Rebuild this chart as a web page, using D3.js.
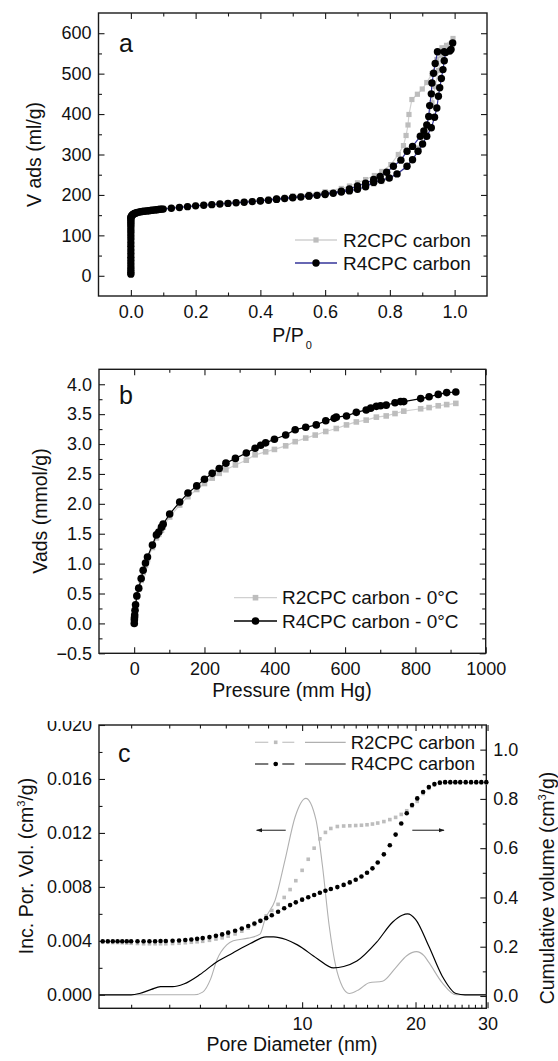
<!DOCTYPE html>
<html>
<head>
<meta charset="utf-8">
<script src="https://cdn.jsdelivr.net/npm/d3@7"></script>
<style>
  body { margin: 0; background: #fff; }
  svg text { font-family: "Liberation Sans", Arial, sans-serif; fill: #111; }
</style>
</head>
<body>
<div class="d3Chart"></div>
<script>
// ---------- panel a : N2 isotherms (P/P0 , ml/g) ----------
var aXTicks = [0.0, 0.2, 0.4, 0.6, 0.8, 1.0];
var aXMinor = [0.1, 0.3, 0.5, 0.7, 0.9];
var aYTicks = [0, 100, 200, 300, 400, 500, 600];
var aYMinor = [50, 150, 250, 350, 450, 550];
var aNames = ["R2CPC carbon", "R4CPC carbon"];
var aR2 = [
  [0,5],[0,12],[0,20],[0,30],[0,40],[0,52],[0,64],[0,76],[0,88],[0,100],[0,110],[0,120],[0,128],[0,135],[0,141],
  [0.002,147],[0.005,151],[0.01,154],[0.02,157],[0.03,159.5],[0.04,161],[0.05,162],[0.06,163],[0.07,164],[0.08,165],[0.09,166],[0.1,167],
  [0.125,169],[0.15,171],[0.175,173],[0.2,175],[0.225,176.5],[0.25,178],[0.275,179.5],[0.3,181],[0.325,182.5],[0.35,184],[0.375,186],
  [0.4,188],[0.425,190],[0.45,192],[0.475,194],[0.5,196],[0.525,198],[0.55,200],[0.575,202],[0.6,204],[0.625,206],[0.65,209],[0.675,212],
  [0.7,216],[0.725,221],[0.75,227],[0.775,233],[0.8,241],[0.825,252],[0.85,268],[0.87,288],[0.89,316],[0.905,348],[0.92,392],[0.93,428],
  [0.94,468],[0.95,508],[0.96,545],[0.975,570],[0.995,587],
  [0.961,564],[0.945,535],[0.93,500],[0.914,478],[0.9,462],[0.885,449],[0.868,436],[0.859,399],[0.856,373],[0.85,347],[0.842,322],
  [0.826,300],[0.803,275],[0.775,258],[0.752,248],[0.725,238],[0.7,230],[0.675,222],[0.65,216],[0.6,208],[0.55,202],[0.5,198]
];
var aR4 = [
  [0,4],[0,9],[0,15],[0,22],[0,30],[0,38],[0,46],[0,55],[0,64],[0,73],[0,82],[0,91],[0,99],[0,107],[0,114],[0,121],[0,127],[0,132],[0,137],[0,141],[0,144],
  [0.001,146],[0.002,148],[0.004,150],[0.006,151.5],[0.008,152.5],[0.01,153.5],[0.013,154.5],[0.016,155.5],[0.02,156.5],[0.025,157.5],
  [0.03,158.5],[0.035,159],[0.04,159.5],[0.045,160],[0.05,160.5],[0.055,161],[0.06,161.5],[0.065,162],[0.07,162.5],[0.075,163],[0.08,163.5],
  [0.085,164],[0.09,164.5],[0.095,165],[0.1,165],
  [0.125,167],[0.15,169],[0.175,171],[0.2,173],[0.225,174.5],[0.25,176],[0.275,177.5],[0.3,179],[0.325,180.5],[0.35,182],[0.375,183.5],
  [0.4,185],[0.425,187],[0.45,189],[0.475,191],[0.5,193],[0.525,195],[0.55,197],[0.575,199],[0.6,201],[0.625,204],[0.65,207],[0.675,210],
  [0.7,214],[0.725,220],[0.75,231],[0.773,236],[0.798,242],[0.822,252],[0.853,271],[0.87,287],[0.887,308],[0.901,326],[0.914,345],
  [0.928,366],[0.938,392],[0.945,415],[0.95,444],[0.954,465],[0.959,488],[0.964,510],[0.968,532],[0.972,552],[0.985,556],[0.994,576],
  [0.989,560],[0.968,554],[0.947,554],[0.94,525],[0.935,501],[0.93,477],[0.928,450],[0.923,421],[0.92,394],[0.914,373],[0.905,358],
  [0.894,345],[0.87,320],[0.853,308],[0.834,286],[0.811,271],[0.79,256],[0.77,246],[0.75,238],[0.725,229],[0.7,222],[0.675,215],
  [0.65,209],[0.6,203],[0.55,198],[0.5,194],[0.45,190],[0.4,186]
];

// ---------- panel b : CO2 isotherms at 0 °C (mm Hg , mmol/g) ----------
var bXTicks = [0, 200, 400, 600, 800, 1000];
var bXMinor = [100, 300, 500, 700, 900];
var bYTicks = [-0.5, 0, 0.5, 1.0, 1.5, 2.0, 2.5, 3.0, 3.5, 4.0];
var bYMinor = [-0.25, 0.25, 0.75, 1.25, 1.75, 2.25, 2.75, 3.25, 3.75];
var bNames = ["R2CPC carbon - 0°C", "R4CPC carbon - 0°C"];
var bR2P = [0.3,0.6,1,1.5,2.5,4,7.6,13,20,25.6,32.2,37.9,52,63.4,70,77.7,82.5,101,129.5,153,178,200,222,242,261,288,319,344,374,399,431,458,488,515,545,575,604,632,660,689,717,742,767,815,839,865,889,915];
var bR2V = [0,0.04,0.08,0.12,0.2,0.29,0.44,0.57,0.72,0.85,0.97,1.07,1.27,1.43,1.49,1.56,1.61,1.78,1.98,2.12,2.24,2.34,2.43,2.51,2.57,2.65,2.73,2.82,2.87,2.91,2.97,3.04,3.10,3.15,3.21,3.26,3.32,3.37,3.40,3.45,3.47,3.51,3.55,3.59,3.61,3.64,3.66,3.68];
var bR4P = [0.3,0.6,1,1.5,2.5,4,7.6,13,20,25.6,32.2,37.9,52,63.4,70,77.7,82.5,101,129.5,153,178,200,222,242,261,288,319,344,360,374,399,431,458,488,518,545,569,575,604,632,660,673,689,701,717,742,758,767,815,839,865,889,915];
var bR4V = [0,0.06,0.1,0.14,0.22,0.31,0.46,0.59,0.75,0.89,1.01,1.11,1.31,1.48,1.53,1.61,1.66,1.83,2.03,2.18,2.30,2.41,2.51,2.59,2.68,2.76,2.85,2.93,2.98,3.02,3.08,3.15,3.24,3.28,3.32,3.39,3.43,3.45,3.47,3.53,3.57,3.60,3.63,3.64,3.65,3.69,3.71,3.71,3.76,3.79,3.83,3.86,3.87];

// ---------- panel c : pore size distribution ----------
var cXTicks = [10, 20, 30];
var cXMinor = [3,4,5,6,7,8,9,11,12,13,14,15,16,17,18,19,21,22,23,24,25,26,27,28,29];
var cYTicks = [0, 0.004, 0.008, 0.012, 0.016, 0.020];
var cYMinor = [0.002, 0.006, 0.010, 0.014, 0.018];
var cY2Ticks = [0, 0.2, 0.4, 0.6, 0.8, 1.0];
var cY2Minor = [0.1, 0.3, 0.5, 0.7, 0.9];
var cNames = ["R2CPC carbon", "R4CPC carbon"];
var cDiam = [2.4,2.5,2.6,2.7,2.8,2.9,3.0,3.15,3.3,3.45,3.6,3.75,3.9,4.1,4.3,4.5,4.7,4.9,5.1,5.35,5.6,5.85,6.1,6.4,6.7,7.0,7.3,7.6,7.9,8.2,8.55,8.9,9.25,9.6,10.0,10.4,10.8,11.2,11.6,12.0,12.5,13.0,13.5,14.0,14.5,15.0,15.5,16.0,16.6,17.2,17.8,18.4,19.0,19.6,20.2,20.9,21.6,22.3,23.0,23.7,24.4,25.1,25.8,26.6,27.4,28.2,29.0,29.8];
var cCumR2 = [.218,.218,.217,.217,.216,.215,.214,.213,.212,.212,.212,.212,.212,.213,.214,.216,.218,.220,.222,.226,.231,.236,.243,.252,.263,.276,.290,.306,.325,.347,.372,.400,.432,.468,.510,.555,.600,.638,.664,.680,.688,.690,.691,.692,.693,.695,.698,.702,.708,.716,.725,.737,.752,.770,.790,.822,.843,.856,.863,.865,.865,.865,.865,.865,.865,.865,.865,.865];
var cCumR4 = [.222,.222,.222,.222,.222,.222,.222,.222,.222,.222,.222,.223,.223,.224,.225,.227,.229,.232,.235,.239,.244,.250,.257,.265,.274,.284,.294,.305,.316,.328,.342,.356,.369,.380,.391,.401,.410,.419,.427,.434,.442,.451,.461,.472,.485,.500,.518,.542,.575,.612,.655,.700,.742,.775,.802,.828,.848,.860,.866,.868,.868,.868,.868,.868,.868,.868,.868,.868];
var cPsdR2 = [[2.33,0],[4.8,0],[5.1,0.0002],[5.4,0.0012],[5.64,0.0026],[6.04,0.0037],[6.32,0.0040],[7.0,0.0042],[7.58,0.0045],[7.84,0.0056],
  [8.38,0.0070],[8.95,0.0100],[9.56,0.0132],[10.24,0.01456],[10.92,0.0130],[11.38,0.0096],[11.88,0.0051],[12.38,0.0021],[12.9,0.0006],
  [13.45,0.0001],[14.3,0.0004],[15.2,0.0009],[16.46,0.0010],[17.8,0.0020],[19.0,0.0029],[20.1,0.0032],[21.0,0.0029],[21.6,0.0024],
  [23.3,0.0009],[25.2,0.0],[29.8,0.0]];
var cPsdR4 = [[2.33,0],[3.0,0],[3.2,0.0001],[3.5,0.0004],[3.75,0.0006],[4.1,0.0006],[4.45,0.0008],[5.0,0.0015],[5.6,0.0024],[6.3,0.0031],
  [7.1,0.0038],[7.9,0.0043],[8.3,0.0043],[9.0,0.0041],[9.7,0.0037],[11.0,0.0027],[12.2,0.0020],[13.0,0.0021],[14.1,0.0025],[15.9,0.0039],
  [17.5,0.0054],[18.5,0.0059],[19.1,0.0060],[20.0,0.0056],[21.6,0.0036],[23.3,0.0014],[25.2,0.0001],[26.5,0],[29.8,0]];
// arrows: [from diameter, to diameter, level on left axis]
var cArrows = [[8.99, 7.41, 0.0122], [19.63, 23.55, 0.0122]];

var W = 558, H = 1061;
var GRAY = "#bdbdbd", INK = "#1a1a1a";
var TITLE = 19.5;

var svg = d3.select(".d3Chart").append("svg")
  .attr("width", W).attr("height", H)
  .style("background-color", "#fff");

svg.append("defs").append("marker")
  .attr("id", "arrowHead").attr("viewBox", "0 0 10 10")
  .attr("refX", 9).attr("refY", 5)
  .attr("markerWidth", 6).attr("markerHeight", 6)
  .attr("orient", "auto-start-reverse")
  .append("path").attr("d", "M0,1.5 L10,5 L0,8.5 Z").attr("fill", INK);

svg.select("defs").append("clipPath").attr("id", "clipC")
  .append("rect").attr("x", 0).attr("y", 721).attr("width", W).attr("height", H);

// 坐標軸 + 外框
function drawFrame(g, x, y, o) {
  var x0 = x.range()[0], x1 = x.range()[1], y0 = y.range()[1], y1 = y.range()[0];
  function put(axis, tx, ty) {
    var a = g.append("g").attr("transform", "translate(" + tx + "," + ty + ")").call(axis);
    a.select(".domain").remove();
    a.selectAll("line").attr("stroke", INK).attr("stroke-width", 1.1);
    a.attr("font-size", 18).attr("font-family", "Liberation Sans, Arial, sans-serif");
    a.selectAll("text").attr("fill", INK);
    return a;
  }
  put(d3.axisBottom(x).tickValues(o.xTicks).tickSize(-6).tickPadding(9).tickFormat(o.xFmt), 0, y1);
  put(d3.axisBottom(x).tickValues(o.xMinor).tickSize(-3.5).tickFormat(""), 0, y1);
  put(d3.axisTop(x).tickValues(o.xTicks).tickSize(-6).tickFormat(""), 0, y0);
  put(d3.axisTop(x).tickValues(o.xMinor).tickSize(-3.5).tickFormat(""), 0, y0);
  put(d3.axisLeft(y).tickValues(o.yTicks).tickSize(-6).tickPadding(7).tickFormat(o.yFmt), x0, 0);
  put(d3.axisLeft(y).tickValues(o.yMinor).tickSize(-3.5).tickFormat(""), x0, 0);
  var yr = o.y2 || y;
  put(d3.axisRight(yr).tickValues(o.y2Ticks || o.yTicks).tickSize(-6).tickPadding(7)
      .tickFormat(o.y2 ? o.y2Fmt : ""), x1, 0);
  put(d3.axisRight(yr).tickValues(o.y2Minor || o.yMinor).tickSize(-3.5).tickFormat(""), x1, 0);
  g.append("rect").attr("x", x0).attr("y", y0).attr("width", x1 - x0).attr("height", y1 - y0)
    .attr("fill", "none").attr("stroke", INK).attr("stroke-width", 1.4);
}

function panelLetter(g, x, y, t) {
  g.append("text").attr("x", x).attr("y", y).text(t)
    .attr("font-family", "Open Sans, Noto Sans, sans-serif").attr("font-size", 25);
}

function square(g, cx, cy, s, c) {
  g.append("rect").attr("x", cx - s / 2).attr("y", cy - s / 2).attr("width", s).attr("height", s).attr("fill", c);
}

// ================= panel a =================
var ga = svg.append("g");
var xA = d3.scaleLinear().domain([-0.1, 1.1]).range([98.5, 487]);
var yA = d3.scaleLinear().domain([-50, 650]).range([296, 13]);
drawFrame(ga, xA, yA, {
  xTicks: aXTicks, xMinor: aXMinor, xFmt: d3.format(".1f"),
  yTicks: aYTicks, yMinor: aYMinor, yFmt: d3.format("d")
});
var lineA = d3.line().x(function (d) { return xA(d[0]); }).y(function (d) { return yA(d[1]); });
ga.append("path").datum(aR2).attr("d", lineA).attr("fill", "none").attr("stroke", "#d0d0d0").attr("stroke-width", 1.2);
ga.append("g").selectAll("rect").data(aR2).enter().append("rect")
  .attr("x", function (d) { return xA(d[0]) - 2.6; }).attr("y", function (d) { return yA(d[1]) - 2.6; })
  .attr("width", 5.2).attr("height", 5.2).attr("fill", GRAY);
ga.append("path").datum(aR4).attr("d", lineA).attr("fill", "none").attr("stroke", "#35359a").attr("stroke-width", 1.2);
ga.append("g").selectAll("circle").data(aR4).enter().append("circle")
  .attr("cx", function (d) { return xA(d[0]); }).attr("cy", function (d) { return yA(d[1]); })
  .attr("r", 3.7).attr("fill", "#000");
panelLetter(ga, 119, 52, "a");
// legend a
[0, 1].forEach(function (i) {
  var ly = 240 + i * 23;
  ga.append("line").attr("x1", 295).attr("x2", 337).attr("y1", ly).attr("y2", ly)
    .attr("stroke", i ? "#35359a" : "#d0d0d0").attr("stroke-width", 1.3);
  if (i) ga.append("circle").attr("cx", 316).attr("cy", ly).attr("r", 3.7).attr("fill", "#000");
  else square(ga, 316, ly, 5.2, GRAY);
  ga.append("text").attr("x", 343).attr("y", ly).attr("dy", "0.35em").attr("font-size", 19).text(aNames[i]);
});
var tA = ga.append("text").attr("x", 292).attr("y", 342).attr("text-anchor", "middle").attr("font-size", TITLE);
tA.append("tspan").text("P/P");
tA.append("tspan").attr("font-size", 11).attr("dy", 7).attr("dx", 2).text("0");
ga.append("text").attr("transform", "translate(41,154.5) rotate(-90)").attr("text-anchor", "middle")
  .attr("font-size", TITLE).text("V ads (ml/g)");

// ================= panel b =================
var gb = svg.append("g");
var xB = d3.scaleLinear().domain([-100, 1000]).range([99, 485.7]);
var yB = d3.scaleLinear().domain([-0.5, 4.25]).range([653.3, 369.3]);
drawFrame(gb, xB, yB, {
  xTicks: bXTicks, xMinor: bXMinor, xFmt: d3.format("d"),
  yTicks: bYTicks, yMinor: bYMinor, yFmt: d3.format(".1f")
});
var bR2 = bR2P.map(function (p, i) { return [p, bR2V[i]]; });
var bR4 = bR4P.map(function (p, i) { return [p, bR4V[i]]; });
var lineB = d3.line().x(function (d) { return xB(d[0]); }).y(function (d) { return yB(d[1]); });
gb.append("path").datum(bR2).attr("d", lineB).attr("fill", "none").attr("stroke", "#d0d0d0").attr("stroke-width", 1.2);
gb.append("g").selectAll("rect").data(bR2).enter().append("rect")
  .attr("x", function (d) { return xB(d[0]) - 2.8; }).attr("y", function (d) { return yB(d[1]) - 2.8; })
  .attr("width", 5.6).attr("height", 5.6).attr("fill", GRAY);
gb.append("path").datum(bR4).attr("d", lineB).attr("fill", "none").attr("stroke", "#000").attr("stroke-width", 1.2);
gb.append("g").selectAll("circle").data(bR4).enter().append("circle")
  .attr("cx", function (d) { return xB(d[0]); }).attr("cy", function (d) { return yB(d[1]); })
  .attr("r", 3.8).attr("fill", "#000");
panelLetter(gb, 119, 404, "b");
[0, 1].forEach(function (i) {
  var ly = 597.7 + i * 23.3;
  gb.append("line").attr("x1", 234).attr("x2", 277).attr("y1", ly).attr("y2", ly)
    .attr("stroke", i ? "#000" : "#d0d0d0").attr("stroke-width", 1.3);
  if (i) gb.append("circle").attr("cx", 255.5).attr("cy", ly).attr("r", 3.8).attr("fill", "#000");
  else square(gb, 255.5, ly, 5.6, GRAY);
  gb.append("text").attr("x", 282).attr("y", ly).attr("dy", "0.35em").attr("font-size", 19).text(bNames[i]);
});
gb.append("text").attr("x", 292).attr("y", 697).attr("text-anchor", "middle").attr("font-size", TITLE).text("Pressure (mm Hg)");
gb.append("text").attr("transform", "translate(47,511) rotate(-90)").attr("text-anchor", "middle")
  .attr("font-size", TITLE).text("Vads (mmol/g)");

// ================= panel c =================
var gc = svg.append("g").attr("clip-path", "url(#clipC)");
var xC = d3.scalePow().exponent(0.15).domain([2.33, 29.8]).range([99, 486.3]);
var yC = d3.scaleLinear().domain([-0.001, 0.020]).range([1008.3, 725]);
var yC2 = d3.scaleLinear().domain([-0.05, 1.1]).range([1008.3, 725]);
drawFrame(gc, xC, yC, {
  xTicks: cXTicks, xMinor: cXMinor, xFmt: d3.format("d"),
  yTicks: cYTicks, yMinor: cYMinor, yFmt: d3.format(".3f"),
  y2: yC2, y2Ticks: cY2Ticks, y2Minor: cY2Minor, y2Fmt: d3.format(".1f")
});
var linePsd = d3.line().curve(d3.curveMonotoneX)
  .x(function (d) { return xC(d[0]); }).y(function (d) { return yC(d[1]); });
gc.append("path").datum(cPsdR2).attr("d", linePsd).attr("fill", "none").attr("stroke", "#b0b0b0").attr("stroke-width", 1.1);
gc.append("path").datum(cPsdR4).attr("d", linePsd).attr("fill", "none").attr("stroke", "#000").attr("stroke-width", 1.2);
gc.append("g").selectAll("rect").data(cDiam).enter().append("rect")
  .attr("x", function (d) { return xC(d) - 1.8; })
  .attr("y", function (d, i) { return yC2(cCumR2[i]) - 1.8; })
  .attr("width", 3.6).attr("height", 3.6).attr("fill", GRAY);
gc.append("g").selectAll("circle").data(cDiam).enter().append("circle")
  .attr("cx", function (d) { return xC(d); })
  .attr("cy", function (d, i) { return yC2(cCumR4[i]); })
  .attr("r", 2.3).attr("fill", "#000");
gc.selectAll(".arrow").data(cArrows).enter().append("line").attr("class", "arrow")
  .attr("x1", function (d) { return xC(d[0]); }).attr("x2", function (d) { return xC(d[1]); })
  .attr("y1", function (d) { return yC(d[2]); }).attr("y2", function (d) { return yC(d[2]); })
  .attr("stroke", INK).attr("stroke-width", 1).attr("marker-end", "url(#arrowHead)");
panelLetter(gc, 118, 762, "c");
[0, 1].forEach(function (i) {
  var ly = 742.3 + i * 21.7, c = i ? "#333" : "#c8c8c8";
  gc.append("line").attr("x1", 255).attr("x2", 268.3).attr("y1", ly).attr("y2", ly).attr("stroke", c).attr("stroke-width", 1.3);
  gc.append("line").attr("x1", 282.3).attr("x2", 294.3).attr("y1", ly).attr("y2", ly).attr("stroke", c).attr("stroke-width", 1.3);
  if (i) gc.append("circle").attr("cx", 275.7).attr("cy", ly).attr("r", 2.3).attr("fill", "#000");
  else square(gc, 275.7, ly, 3.6, GRAY);
  gc.append("line").attr("x1", 305).attr("x2", 345.7).attr("y1", ly).attr("y2", ly)
    .attr("stroke", i ? "#000" : "#b0b0b0").attr("stroke-width", 1.2);
  gc.append("text").attr("x", 350.7).attr("y", ly).attr("dy", "0.35em").attr("font-size", 18.5).text(cNames[i]);
});
gc.append("text").attr("x", 292).attr("y", 1051).attr("text-anchor", "middle").attr("font-size", TITLE).text("Pore Diameter (nm)");
var tl = gc.append("text").attr("transform", "translate(33,866) rotate(-90)").attr("text-anchor", "middle").attr("font-size", TITLE);
tl.append("tspan").text("Inc. Por. Vol. (cm");
tl.append("tspan").attr("font-size", 11).attr("dy", -8).text("3");
tl.append("tspan").attr("dy", 8).text("/g)");
var tr = gc.append("text").attr("transform", "translate(554,888) rotate(-90)").attr("text-anchor", "middle").attr("font-size", TITLE);
tr.append("tspan").text("Cumulative volume (cm");
tr.append("tspan").attr("font-size", 11).attr("dy", -8).text("3");
tr.append("tspan").attr("dy", 8).text("/g)");
</script>
</body>
</html>
